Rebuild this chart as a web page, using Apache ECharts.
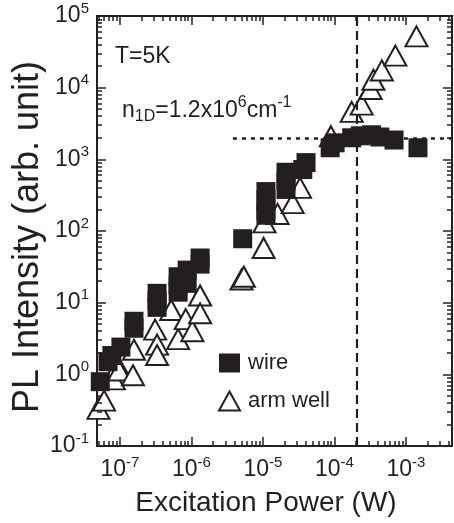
<!DOCTYPE html>
<html>
<head>
<meta charset="utf-8">
<script src="https://cdn.jsdelivr.net/npm/echarts@6/dist/echarts.min.js"></script>
<style>
  html, body { margin: 0; padding: 0; background: #fff; }
  #chart { width: 454px; height: 523px; }
</style>
</head>
<body>
<div id="chart"></div>
<script>
var FONT = 'Liberation Sans, Arial, Helvetica, sans-serif'
var INK = '#231f20'

// axis ranges and decade tick values
var xMin = 4.77e-8, xMax = 4.4e-3
var yMin = 0.1, yMax = 1e5
var xDecades = [1e-7, 1e-6, 1e-5, 1e-4, 1e-3]
var yDecades = [0.1, 1, 10, 100, 1e3, 1e4, 1e5]

// wire (filled squares)
var wireX = [5.3e-8, 6.8e-8, 7.7e-8, 1.03e-7, 1.57e-7, 1.57e-7,
  3.3e-7, 3.3e-7, 3.3e-7, 6.5e-7, 6.5e-7, 6.5e-7, 8.7e-7, 8.7e-7, 1.32e-6, 1.32e-6,
  5.2e-6, 1.1e-5, 1.1e-5, 1.1e-5, 1.1e-5, 2.1e-5, 2.1e-5, 2.1e-5, 3.6e-5, 4.0e-5,
  8.7e-5, 1.02e-4, 1.74e-4, 2.3e-4, 3.3e-4, 4.3e-4, 6.8e-4, 1.47e-3]
var wireY = [0.79, 1.5, 1.83, 2.4, 5.5, 4.4,
  13.5, 10.7, 8.6, 23, 17.7, 14, 28.5, 18.6, 42, 34.5,
  78, 355, 270, 195, 166, 660, 500, 380, 720, 900,
  1450, 1700, 2000, 2130, 2200, 2050, 1860, 1450]

// arm well (open triangles)
var wellX = [5.0e-8, 6.0e-8, 8.2e-8, 9.4e-8, 9.7e-8, 1.52e-7, 1.57e-7,
  3.1e-7, 3.3e-7, 3.3e-7, 5.2e-7, 6.5e-7, 8.3e-7, 1.03e-6, 1.32e-6, 1.32e-6,
  5.0e-6, 5.4e-6, 1.02e-5, 1.05e-5, 1.6e-5, 2.6e-5, 3.3e-5,
  8.9e-5, 1.74e-4, 2.4e-4, 3.2e-4, 3.5e-4, 4.6e-4, 7.1e-4, 1.4e-3]
var wellY = [0.33, 0.43, 0.85, 1.3, 1.13, 0.97, 2.2,
  4.2, 2.6, 1.86, 7.9, 3.1, 5.9, 4.0, 12.6, 7.1,
  21, 23, 58, 132, 173, 245, 400,
  2100, 4600, 5800, 9600, 12900, 17400, 28000, 52000]

// guide lines
var vLineX = 2.04e-4
var hLineY = 2.0e3
var hLineStartX = 3.8e-6

var GRID = { left: 97, right: 2, top: 16, bottom: 77 }
var gridW = 454 - GRID.left - GRID.right
var gridH = 523 - GRID.top - GRID.bottom

// tick marks: [value, length in px]
function tickList(decades, lo, hi) {
  var out = []
  for (var d = decades[0] / 10; d <= hi; d *= 10) {
    for (var k = 1; k <= 9; k++) {
      var v = d * k
      if (v >= lo * 0.999 && v <= hi * 1.001) out.push([v, k === 1 ? 9 : 5])
    }
  }
  return out
}
var xTicks = tickList(xDecades, xMin, xMax)
var yTicks = tickList(yDecades, yMin, yMax)

// inward ticks on all four sides, drawn as short markLine segments
function markTicks() {
  var out = []
  var st = { color: INK, width: 1.5, type: 'solid' }
  xTicks.forEach(function (t) {
    var f = Math.pow(yMax / yMin, t[1] / gridH)
    out.push([{ coord: [t[0], yMin], lineStyle: st }, { coord: [t[0], yMin * f] }])
    out.push([{ coord: [t[0], yMax], lineStyle: st }, { coord: [t[0], yMax / f] }])
  })
  yTicks.forEach(function (t) {
    var f = Math.pow(xMax / xMin, t[1] / gridW)
    out.push([{ coord: [xMin, t[0]], lineStyle: st }, { coord: [xMin * f, t[0]] }])
    out.push([{ coord: [xMax, t[0]], lineStyle: st }, { coord: [xMax / f, t[0]] }])
  })
  return out
}

function pairs(xs, ys) {
  return xs.map(function (x, i) { return [x, ys[i]] })
}

function powLabel(v) {
  var e = Math.round(Math.log10(v))
  return '{b|10}{s|' + e + '}'
}

var tickRich = {
  b: { fontSize: 23, fontFamily: FONT, color: INK },
  s: { fontSize: 15, fontFamily: FONT, color: INK, padding: [0, 0, 15, 0] }
}

var chart = echarts.init(document.getElementById('chart'))

var option = {
  backgroundColor: '#fff',
  animation: false,
  grid: {
    left: GRID.left, right: GRID.right, top: GRID.top, bottom: GRID.bottom,
    show: true, borderColor: INK, borderWidth: 2, backgroundColor: 'transparent'
  },
  xAxis: {
    type: 'log',
    logBase: 10,
    min: xMin,
    max: xMax,
    axisLine: { show: false },
    axisTick: { show: false },
    axisLabel: { customValues: xDecades, formatter: powLabel, rich: tickRich, margin: 9 },
    splitLine: { show: false }
  },
  yAxis: {
    type: 'log',
    logBase: 10,
    min: yMin,
    max: yMax,
    axisLine: { show: false },
    axisTick: { show: false },
    axisLabel: { customValues: yDecades, formatter: powLabel, rich: tickRich, margin: 8 },
    splitLine: { show: false }
  },
  legend: {
    orient: 'vertical',
    left: 213,
    top: 347,
    itemWidth: 21,
    itemHeight: 19,
    itemGap: 16,
    textStyle: { fontSize: 22, fontFamily: FONT, color: INK, padding: [0, 0, 0, 3] },
    data: [{ name: 'wire', icon: 'rect' }, { name: 'arm well', icon: 'triangle' }]
  },
  graphic: [
    {
      type: 'text', left: 115, top: 45,
      style: { text: 'T=5K', font: '23px ' + FONT, fill: INK }
    },
    {
      type: 'text', x: 122, y: 95,
      style: {
        text: '{a|n}{d|1D}{a|=1.2x10}{u|6}{a|cm}{u|-1}',
        fill: INK,
        rich: {
          a: { fontSize: 23, fontFamily: FONT, color: INK },
          d: { fontSize: 16, fontFamily: FONT, color: INK, padding: [12, 0, 0, 0] },
          u: { fontSize: 16, fontFamily: FONT, color: INK, padding: [0, 0, 15, 0] }
        }
      }
    },
    {
      type: 'text', x: 266, y: 503,
      style: {
        text: 'Excitation Power (W)', font: '28px ' + FONT, fill: INK,
        align: 'center', verticalAlign: 'middle'
      }
    },
    {
      type: 'text', x: 28, y: 237, rotation: Math.PI / 2,
      style: {
        text: 'PL Intensity (arb. unit)', font: '36px ' + FONT, fill: INK,
        align: 'center', verticalAlign: 'middle'
      }
    }
  ],
  series: [
    {
      name: 'arm well',
      type: 'scatter',
      symbol: 'triangle',
      symbolSize: [22, 20],
      itemStyle: { color: '#fff', borderColor: INK, borderWidth: 2, opacity: 1 },
      data: pairs(wellX, wellY),
      markLine: {
        silent: true,
        symbol: 'none',
        label: { show: false },
        data: [
          [
            { coord: [vLineX, yMin], lineStyle: { color: INK, width: 2.2, type: [9, 5] } },
            { coord: [vLineX, yMax] }
          ],
          [
            { coord: [hLineStartX, hLineY], lineStyle: { color: INK, width: 2.5, type: [4, 5] } },
            { coord: [xMax, hLineY] }
          ]
        ].concat(markTicks())
      }
    },
    {
      name: 'wire',
      type: 'scatter',
      symbol: 'rect',
      symbolSize: 19,
      itemStyle: { color: INK, opacity: 1 },
      data: pairs(wireX, wireY)
    }
  ]
}

chart.setOption(option)
</script>
</body>
</html>
